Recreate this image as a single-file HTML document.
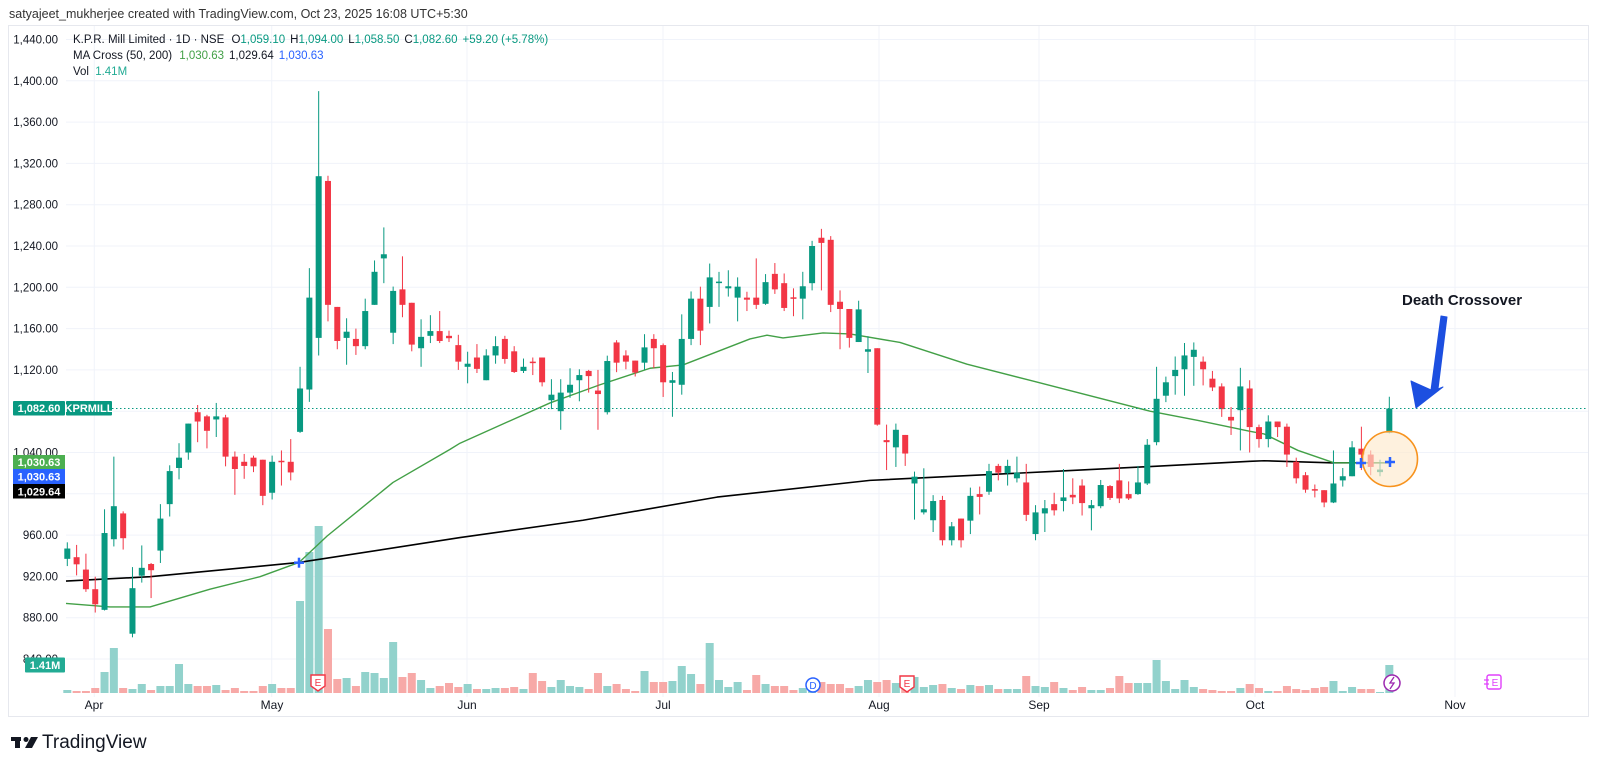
<!DOCTYPE html>
<html><head><meta charset="utf-8">
<style>
html,body{margin:0;padding:0;background:#fff;}
body{width:1600px;height:770px;overflow:hidden;position:relative;font-family:"Liberation Sans",sans-serif;}
svg text{font-family:"Liberation Sans",sans-serif;}
</style></head>
<body>
<svg id="s" width="1600" height="770" viewBox="0 0 1600 770" xmlns="http://www.w3.org/2000/svg">
<rect x="0" y="0" width="1600" height="770" fill="#fff"/>
<text x="9" y="18" font-size="12.5" fill="#333">satyajeet_mukherjee created with TradingView.com, Oct 23, 2025 16:08 UTC+5:30</text>
<rect x="8.5" y="25.5" width="1580" height="691" fill="none" stroke="#e6e8ee" stroke-width="1"/>
<g id="grid"></g>
<g id="vol"></g>
<g id="ma"></g>
<g id="cdl"></g>
<g id="axis" font-size="11.5" fill="#131722" text-anchor="end">
<text x="58" y="43.5">1,440.00</text>
<text x="58" y="84.8">1,400.00</text>
<text x="58" y="126.1">1,360.00</text>
<text x="58" y="167.4">1,320.00</text>
<text x="58" y="208.7">1,280.00</text>
<text x="58" y="250">1,240.00</text>
<text x="58" y="291.3">1,200.00</text>
<text x="58" y="332.6">1,160.00</text>
<text x="58" y="373.9">1,120.00</text>
<text x="58" y="456.5">1,040.00</text>
<text x="58" y="539.1">960.00</text>
<text x="58" y="580.4">920.00</text>
<text x="58" y="621.7">880.00</text>
<text x="58" y="663">840.00</text>
</g>
<g font-size="12" fill="#131722" text-anchor="middle">
<text x="94" y="709">Apr</text>
<text x="272" y="709">May</text>
<text x="467" y="709">Jun</text>
<text x="663" y="709">Jul</text>
<text x="879" y="709">Aug</text>
<text x="1039" y="709">Sep</text>
<text x="1255" y="709">Oct</text>
<text x="1455" y="709">Nov</text>
</g>
<g font-size="11.5">
<text x="73" y="43" fill="#131722">K.P.R. Mill Limited · 1D · NSE <tspan dx="4">O</tspan><tspan fill="#089981">1,059.10</tspan><tspan dx="5">H</tspan><tspan fill="#089981">1,094.00</tspan><tspan dx="5">L</tspan><tspan fill="#089981">1,058.50</tspan><tspan dx="5">C</tspan><tspan fill="#089981">1,082.60</tspan><tspan dx="5" fill="#089981">+59.20 (+5.78%)</tspan></text>
<text x="73" y="59" fill="#131722">MA Cross (50, 200) <tspan dx="4" fill="#43a047">1,030.63</tspan><tspan dx="5" fill="#131722">1,029.64</tspan><tspan dx="5" fill="#2962ff">1,030.63</tspan></text>
<text x="73" y="75" fill="#131722">Vol <tspan dx="3" fill="#22ab94">1.41M</tspan></text>
</g>
<line x1="112" y1="408.5" x2="1588" y2="408.5" stroke="#089981" stroke-width="1" stroke-dasharray="1.5,2.5"/>
<rect x="13" y="401" width="52" height="14.5" fill="#089981" rx="1"/>
<text x="39" y="412" font-size="11" font-weight="bold" fill="#fff" text-anchor="middle">1,082.60</text>
<rect x="66" y="401" width="46" height="14.5" fill="#089981" rx="1"/>
<text x="89" y="412" font-size="11" font-weight="bold" fill="#fff" text-anchor="middle">KPRMILL</text>
<rect x="13" y="455" width="52" height="14" fill="#4caf50"/>
<text x="39" y="466" font-size="11" font-weight="bold" fill="#fff" text-anchor="middle">1,030.63</text>
<rect x="13" y="469" width="52" height="15" fill="#2962ff"/>
<text x="39" y="480.5" font-size="11" font-weight="bold" fill="#fff" text-anchor="middle">1,030.63</text>
<rect x="13" y="484" width="52" height="14.5" fill="#000"/>
<text x="39" y="495.5" font-size="11" font-weight="bold" fill="#fff" text-anchor="middle">1,029.64</text>
<rect x="25" y="657.5" width="40" height="15" fill="#22ab94" rx="1"/>
<text x="45" y="669" font-size="11" font-weight="bold" fill="#fff" text-anchor="middle">1.41M</text>
<circle cx="1390" cy="459" r="27.5" fill="#fde9cc" stroke="#f7931e" stroke-width="1.6" fill-opacity="0.65"/>
<g id="top"></g>
<text x="1402" y="305" font-size="15" font-weight="bold" fill="#131722">Death Crossover</text>
<path d="M1447,317 L1438,389 L1443,387 L1416,408 L1411,381 L1431,390 L1441,316 Z" fill="#1c4fe0" stroke="#1c4fe0" stroke-width="1" stroke-linejoin="round"/>
<path d="M311,675 h14 v11 l-7,5 l-7,-5 z" fill="#fff" stroke="#f23645" stroke-width="1.4"/>
<text x="318" y="686" font-size="10" fill="#f23645" text-anchor="middle">E</text>
<circle cx="813" cy="685" r="7" fill="#fff" stroke="#2962ff" stroke-width="1.5"/>
<text x="813" y="689" font-size="10" fill="#2962ff" text-anchor="middle">D</text>
<path d="M900,676 h14 v11 l-7,5 l-7,-5 z" fill="#fff" stroke="#f23645" stroke-width="1.4"/>
<text x="907" y="687" font-size="10" fill="#f23645" text-anchor="middle">E</text>
<circle cx="1392" cy="683" r="8" fill="#fff" stroke="#9c27b0" stroke-width="1.5"/>
<path d="M1394,677 l-4,6 h4 l-4,6" fill="none" stroke="#9c27b0" stroke-width="1.3"/>
<rect x="1487" y="675" width="14" height="14" rx="2" fill="#fff" stroke="#e040fb" stroke-width="1.4"/>
<text x="1495" y="686" font-size="10" fill="#e040fb" text-anchor="middle">E</text>
<line x1="1484" y1="680" x2="1489" y2="680" stroke="#e040fb" stroke-width="1.2"/>
<line x1="1484" y1="684" x2="1489" y2="684" stroke="#e040fb" stroke-width="1.2"/>
<g fill="#131722">
<rect x="11" y="737" width="10" height="4"/>
<rect x="15" y="737" width="5" height="11"/>
<circle cx="26" cy="739.5" r="2.5"/>
<path d="M31,737 h7 l-6,11 h-7 z"/>
</g>
<text x="42" y="748" font-size="19" fill="#131722" font-weight="500">TradingView</text>
</svg>
<script>
(function(){
var NS="http://www.w3.org/2000/svg";
function P(p){return 617.7-(p-880)*1.0325;}
function X(i){return 67.3+(i-1)*9.31;}
function el(g,tag,a){var e=document.createElementNS(NS,tag);for(var k in a)e.setAttribute(k,a[k]);g.appendChild(e);return e;}
var grid=document.getElementById('grid');
for(var p=1440;p>=840;p-=40){var y=P(p);el(grid,'line',{x1:66,x2:1588,y1:y,y2:y,stroke:'#f0f3fa','stroke-width':1});}
[94.3,271.7,467,663,879,1039,1255,1455].forEach(function(x){el(grid,'line',{x1:x,x2:x,y1:26,y2:697,stroke:'#f0f3fa','stroke-width':1});});
var r='r',g='g';
var D=[[947,937,953,930,g],[938.6,931.7,950.5,921,r],[926.6,907.6,942,905,r],[907.6,893,919.7,885,r],[962,887.6,985,887,g],[988,956,1036,949,g],[981,957,983,946,r],[908.6,864.5,929,861,g],[928.3,920.7,950,914,g],[932,926,933,899,r],
[976,945,990,933,g],[1022,990,1027.6,978,g],[1035,1025,1049,1014,g],[1068,1040,1068,1033,g],[1079,1070,1086,1050,r],[1075,1061,1076.5,1044,r],[1075,1072,1088,1055,g],[1074,1036,1076.5,1026.6,r],[1036,1024,1041,999,r],[1031,1027,1038.6,1014.5,r],
[1035,1026.6,1037,1021,r],[1033,998,1033,989,r],[1031,1001,1037,994.5,g],[1032,1031,1042,1008,r],[1031,1020.7,1053,1013,r],[1102,1060,1123,1059,g],[1190,1101,1218.6,1089,g],[1307.6,1151,1390,1134,g],[1303,1183,1308,1167,r],[1181,1148,1181,1140,r],
[1157,1151,1170,1125,g],[1150,1143,1160,1134.5,r],[1177,1143,1189,1140,g],[1215,1183,1226,1183,g],[1232,1228,1258,1204,g],[1196.5,1156,1200.7,1145,g],[1198,1183,1230,1171,r],[1185,1144.5,1185,1138,r],[1152,1141,1169,1123,g],[1157.6,1153,1173,1146,g],
[1157.6,1148,1177,1146,r],[1153,1150.7,1158,1147,r],[1144,1128,1154,1120,r],[1126,1123,1137.6,1107,g],[1132,1121,1145,1117,r],[1134,1110,1140,1110,g],[1143,1134,1152.6,1126,g],[1150,1130.6,1153,1126,r],[1138,1118,1143,1117,r],[1123,1119,1131,1117,g],
[1128,1127,1132,1115,r],[1132,1108,1132,1104,r],[1096,1090.6,1111,1082,g],[1098,1080,1111,1062,g],[1105.6,1098,1121.6,1093,g],[1115,1110,1120.6,1089.6,g],[1119,1114,1120,1098,r],[1100,1096.6,1120,1062,r],[1128.6,1079,1133.8,1076.8,g],[1146.6,1127,1148.8,1117.8,r],
[1134,1128,1139,1120.6,r],[1129,1117.4,1129,1113.6,r],[1141.8,1127,1154.6,1120,g],[1150,1141,1154.6,1121.6,r],[1144,1108,1145.6,1093.8,r],[1110,1107.5,1118,1074.6,g],[1150,1105.6,1173.8,1096,g],[1189,1150,1196,1144,g],[1189,1158,1200.6,1144,r],[1209.6,1181,1223,1165,g],
[1205.5,1204.5,1215,1181,g],[1201,1199,1216.5,1191,g],[1200.6,1190,1209.6,1167,g],[1190,1188,1195.7,1177,r],[1190,1183,1228,1179,r],[1205,1184,1212.8,1183,g],[1213,1198,1223.5,1193.6,r],[1204,1180,1213.4,1177,r],[1190.3,1189.3,1199,1172,r],[1201,1189,1215,1169,g],
[1240,1204,1245,1197,g],[1248,1243,1256.6,1197,r],[1246,1183,1249.6,1176,r],[1186,1179,1197,1140,r],[1179,1151,1179,1141.6,r],[1178.6,1147,1187,1147,g],[1140,1137.6,1152.6,1117,g],[1141,1067,1141,1066,r],[1052,1050,1067,1023,r],[1062,1045,1068,1026,g],
[1057,1039,1057,1027,r],[1016.6,1010,1021.5,975,g],[985,982,1024.7,980,g],[993,974.4,998.7,963,g],[994,955,998,950,r],[968.5,955,972.7,950,g],[976,955,976,948,r],[998,974,1006,961,g],[999.7,997,1007,980,r],[1022,1002,1029,999,g],
[1027,1020.5,1029,1013,r],[1027,1020,1033,1008,g],[1020.5,1015,1036,1011,g],[1011,979.6,1029,973.6,r],[982,961,989,955,g],[986,981,994,963,g],[990,984,1001,979,r],[996.5,993,1024,983,g],[999,996.5,1015,990,r],[1008,991,1014,979,r],
[989,986,994,964.6,g],[1008.5,988,1013.4,986,g],[1007.5,996,1008.5,994,r],[1013,995.5,1029,991,r],[999.7,995.5,1012,994,r],[1011,999.7,1027,999,g],[1047.5,1010,1053,1008.5,g],[1092,1050,1123,1047,g],[1108,1095,1113.5,1088.8,g],[1120,1114,1133,1096,g],
[1134,1120.6,1146,1095,g],[1139.5,1132.6,1146.6,1104.6,g],[1128,1120.6,1133,1105,r],[1111.5,1103,1119,1099.5,r],[1104,1082,1107,1074.5,r],[1074.5,1071,1084,1057,r],[1104,1081,1122,1042,g],[1102,1064.6,1110,1040,r],[1064.6,1053,1067,1044.7,r],[1070,1053,1076,1045,g],
[1070,1064.6,1070,1055,r],[1065,1038,1068,1026,r],[1031,1015,1035,1010,r],[1018,1004,1021,1001,r],[1004.5,1003.5,1009,996.5,r],[1003.5,991.6,1003.5,987,r],[1010,991.6,1042,991,g],[1017,1013,1025,1007,g],[1045,1017,1051,1017,g],[1043.7,1038,1065,1023,r],
[1038,1026,1042,1018,r],[1023.5,1021,1033,1017,g],[1082.6,1059.1,1094,1058.5,g]];
var V=[3,2,2,5,21,45,5,4,9,3,7,7,29,9,7,7,8,3,5,2,2,7,9,5,5,92,141,167,64,14,15,7,21,20,15,51,
16,20,13,5,7,10,6,9,4,4,5,5,6,4,20,12,6,13,7,6,4,20,7,9,4,2,22,11,11,12,27,19,9,50,13,6,11,3,18,9,7,7,3,5,7,11,9,9,5,7,13,11,13,10,8,16,6,8,
9,5,4,8,7,8,4,4,4,17,7,6,11,5,3,6,3,3,5,17,10,10,10,33,12,4,13,6,4,3,2,2,5,9,5,2,2,7,4,3,5,6,12,2,6,4,4,1,28];
var vol=document.getElementById('vol'),cd=document.getElementById('cdl');
D.forEach(function(d,k){
 var i=k+1,x=X(i),col=d[4]=='g'?'#089981':'#f23645';
 var h=V[k]||2;
 el(vol,'rect',{x:x-4,y:693-h,width:8,height:h,fill:d[4]=='g'?'#92d2cc':'#f7a9a7'});
 el(cd,'line',{x1:x,x2:x,y1:P(d[2]),y2:P(d[3]),stroke:col,'stroke-width':1});
 var t=P(d[0]),b=P(d[1]);if(b-t<1.5)b=t+1.5;
 el(cd,'rect',{x:x-3,y:t,width:6,height:b-t,fill:col});
});
function line(pts,c,w){var s='';pts.forEach(function(p,j){s+=(j?'L':'M')+p[0]+','+P(p[1]);});el(document.getElementById('ma'),'path',{d:s,fill:'none',stroke:c,'stroke-width':w,'stroke-linejoin':'round'});}
line([[66,915.5],[150,919.7],[299,933.5],[460,957.6],[583,974.4],[717,996.8],[870,1013],[1050,1021.5],[1150,1026.4],[1250,1031.5],[1264,1032],[1331,1030],[1391,1030]],'#000',1.6);
line([[66,893.8],[110,890.4],[150,890.4],[210,907.6],[260,919.7],[299,933.5],[327,959],[393,1011],[450,1043],[460,1049],[550,1088],[600,1105.6],[650,1121.6],[683,1124.8],[750,1150],[767,1153.6],[783,1151],[823,1155.8],[850,1154.8],[900,1146.6],[967,1125.5],[1050,1105],[1150,1080],[1198,1071],[1250,1060.5],[1264,1058],[1298,1042],[1334,1030],[1391,1030]],'#43a047',1.4);
var top=document.getElementById('top');
[[299,562.7],[1361,463],[1390,462]].forEach(function(c){
 el(top,'line',{x1:c[0]-5,x2:c[0]+5,y1:c[1],y2:c[1],stroke:'#2962ff','stroke-width':2.5});
 el(top,'line',{x1:c[0],x2:c[0],y1:c[1]-5,y2:c[1]+5,stroke:'#2962ff','stroke-width':2.5});
});
})();
</script>
</body></html>
